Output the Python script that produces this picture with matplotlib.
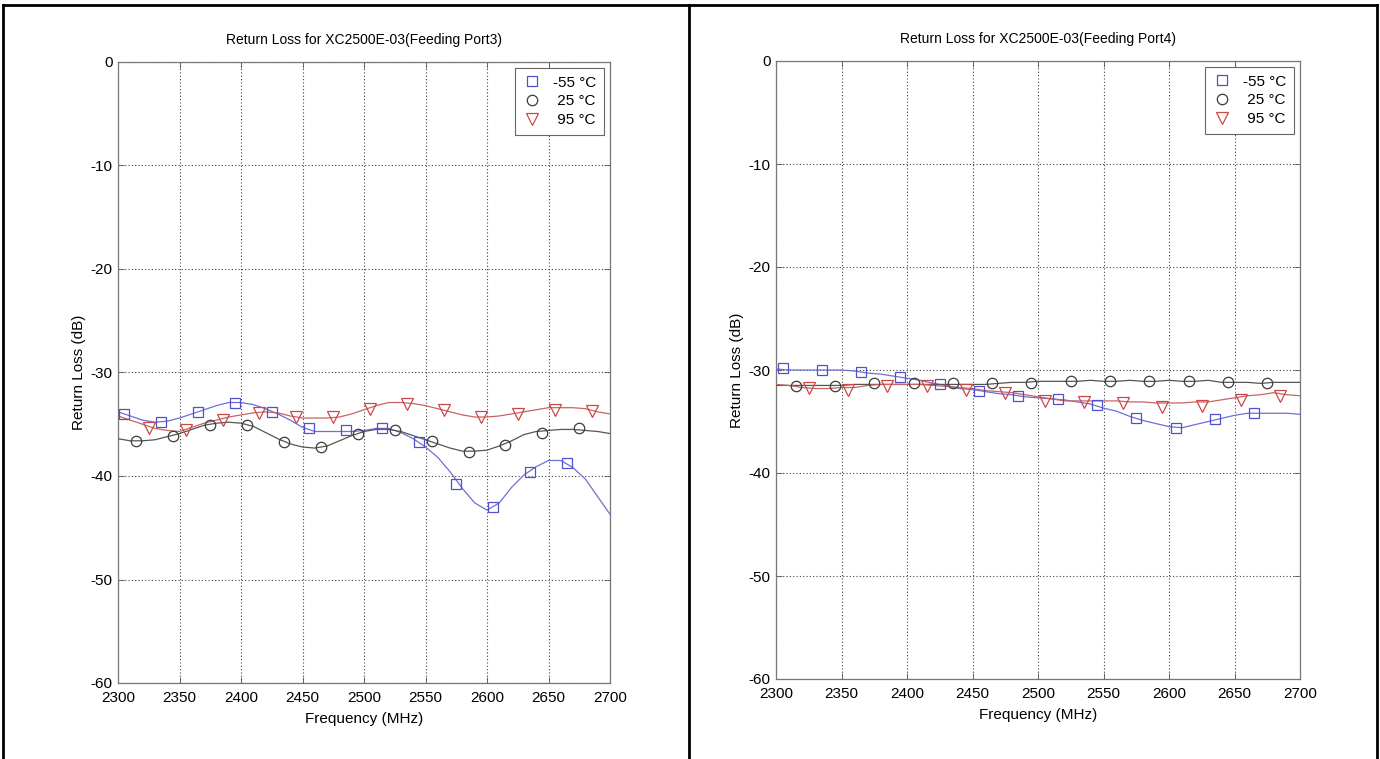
import matplotlib
matplotlib.use("Agg")
import matplotlib.pyplot as plt
from matplotlib.lines import Line2D
import numpy as np

plt.rcParams['font.family'] = ['Liberation Sans', 'DejaVu Sans']
plt.rcParams['axes.unicode_minus'] = False

# ---------------- data ----------------
freq_line = list(range(2300, 2701, 10))

# Port 3 (left panel) curves
p3_m55 = [-33.8, -34.2, -34.6, -34.8, -34.7, -34.4, -34.0, -33.6, -33.2, -32.9,
          -32.9, -33.1, -33.5, -34.0, -34.6, -35.3, -35.7, -35.7, -35.7, -35.7,
          -35.6, -35.4, -35.4, -35.8, -36.4, -37.2, -38.2, -39.6, -41.2, -42.6,
          -43.3, -42.6, -41.1, -39.9, -39.1, -38.5, -38.5, -39.2, -40.3, -42.0, -43.7]
p3_25 = [-36.4, -36.6, -36.6, -36.5, -36.2, -35.9, -35.5, -35.1, -34.9, -34.8,
         -34.9, -35.2, -35.8, -36.4, -36.9, -37.2, -37.3, -37.1, -36.6, -36.1,
         -35.7, -35.5, -35.5, -35.7, -36.1, -36.5, -36.9, -37.3, -37.6, -37.6,
         -37.5, -37.1, -36.6, -36.0, -35.7, -35.6, -35.5, -35.5, -35.6, -35.7, -35.9]
p3_95 = [-34.2, -34.6, -35.0, -35.4, -35.6, -35.7, -35.3, -34.9, -34.6, -34.3,
         -34.1, -33.9, -33.8, -33.9, -34.2, -34.4, -34.4, -34.4, -34.3, -34.0,
         -33.6, -33.2, -32.9, -32.9, -33.0, -33.2, -33.5, -33.8, -34.1, -34.3,
         -34.3, -34.2, -34.0, -33.8, -33.6, -33.4, -33.4, -33.4, -33.5, -33.8, -34.0]

# Port 4 (right panel) curves
p4_m55 = [-29.9, -30.0, -30.0, -30.0, -30.0, -30.0, -30.1, -30.3, -30.4, -30.6,
          -30.8, -31.0, -31.3, -31.5, -31.8, -31.9, -32.1, -32.3, -32.4, -32.6,
          -32.7, -32.8, -32.9, -33.1, -33.3, -33.7, -34.0, -34.5, -34.9, -35.2,
          -35.5, -35.6, -35.3, -35.0, -34.7, -34.4, -34.2, -34.2, -34.2, -34.2, -34.3]
p4_25 = [-31.5, -31.5, -31.5, -31.5, -31.5, -31.5, -31.4, -31.4, -31.4, -31.4,
         -31.4, -31.4, -31.4, -31.4, -31.4, -31.4, -31.4, -31.3, -31.2, -31.2,
         -31.1, -31.1, -31.1, -31.1, -31.0, -31.1, -31.1, -31.0, -31.1, -31.1,
         -31.0, -31.1, -31.1, -31.0, -31.2, -31.2, -31.2, -31.3, -31.2, -31.2, -31.2]
p4_95 = [-31.4, -31.5, -31.7, -31.8, -31.8, -31.7, -31.7, -31.5, -31.4, -31.4,
         -31.4, -31.4, -31.5, -31.6, -31.7, -31.8, -32.0, -32.1, -32.2, -32.4,
         -32.6, -32.8, -33.0, -33.0, -33.0, -33.0, -33.0, -33.1, -33.1, -33.2,
         -33.2, -33.2, -33.1, -33.1, -32.9, -32.7, -32.5, -32.4, -32.2, -32.4, -32.5]

# marker positions
mk_m55_f = [2305, 2335, 2365, 2395, 2425, 2455, 2485, 2515, 2545, 2575, 2605, 2635, 2665]
mk_25_f = [2315, 2345, 2375, 2405, 2435, 2465, 2495, 2525, 2555, 2585, 2615, 2645, 2675]
mk_95_f = [2325, 2355, 2385, 2415, 2445, 2475, 2505, 2535, 2565, 2595, 2625, 2655, 2685]

p3_mk_m55 = [-34.0, -34.8, -33.8, -32.9, -33.8, -35.4, -35.6, -35.4, -36.7, -40.8, -43.0, -39.6, -38.7]
p3_mk_25 = [-36.6, -36.1, -35.1, -35.1, -36.7, -37.2, -35.9, -35.6, -36.6, -37.7, -37.0, -35.8, -35.4]
p3_mk_95 = [-35.4, -35.6, -34.6, -33.9, -34.3, -34.3, -33.5, -33.0, -33.6, -34.3, -34.0, -33.6, -33.7]

p4_mk_m55 = [-29.8, -30.0, -30.2, -30.7, -31.4, -32.0, -32.5, -32.8, -33.4, -34.7, -35.6, -34.8, -34.2]
p4_mk_25 = [-31.6, -31.6, -31.3, -31.3, -31.3, -31.3, -31.3, -31.1, -31.1, -31.1, -31.1, -31.2, -31.3]
p4_mk_95 = [-31.7, -31.9, -31.6, -31.6, -31.9, -32.2, -33.0, -33.1, -33.2, -33.6, -33.5, -32.9, -32.5]

labels = ['-55 \u00b0C', ' 25 \u00b0C', ' 95 \u00b0C']
titles = ['Return Loss for XC2500E-03(Feeding Port3)',
          'Return Loss for XC2500E-03(Feeding Port4)']
xticks = [2300, 2350, 2400, 2450, 2500, 2550, 2600, 2650, 2700]
yticks = [0, -10, -20, -30, -40, -50, -60]

# ---------------- styling ----------------
line_colors = ['#6f6fd8', '#555555', '#c86464']
mk_colors = ['#5050cc', '#3c3c3c', '#cc4848']
markers = ['s', 'o', 'v']
msizes = [7.5, 7.5, 8]

fig = plt.figure(figsize=(13.8, 7.59), dpi=100)
W, H = 1380, 759

def px_axes(x0, x1, y0, y1):
    return fig.add_axes([x0 / W, 1 - y1 / H, (x1 - x0) / W, (y1 - y0) / H])

axes = [px_axes(118, 610, 62, 683), px_axes(776, 1300, 61, 679)]

panels = [
    ((p3_m55, p3_25, p3_95), (p3_mk_m55, p3_mk_25, p3_mk_95)),
    ((p4_m55, p4_25, p4_95), (p4_mk_m55, p4_mk_25, p4_mk_95)),
]
mk_freqs = [mk_m55_f, mk_25_f, mk_95_f]

for ax, (curves, mks), title in zip(axes, panels, titles):
    for i in range(3):
        ax.plot(freq_line, curves[i], color=line_colors[i], lw=0.9, zorder=3)
        ax.plot(mk_freqs[i], mks[i], linestyle='none', marker=markers[i],
                markersize=msizes[i], markerfacecolor='none',
                markeredgecolor=mk_colors[i], markeredgewidth=0.9,
                label=labels[i], zorder=4)
    ax.set_xlim(2300, 2700)
    ax.set_ylim(-60, 0)
    ax.set_xticks(xticks)
    ax.set_yticks(yticks)
    ax.grid(True, color='#444444', linestyle=(0, (1, 2)), linewidth=0.8)
    ax.tick_params(direction='in', length=4, width=0.6, color='#555555',
                   labelsize=11, top=True, right=True)
    ax.tick_params(axis='x', pad=6)
    ax.tick_params(axis='y', pad=4)
    for s in ax.spines.values():
        s.set_color('#777777')
        s.set_linewidth(0.9)
    ax.set_title(title, fontsize=10, pad=13)
    ax.set_xlabel('Frequency (MHz)', fontsize=11, labelpad=5)
    ax.set_ylabel('Return Loss (dB)', fontsize=11, labelpad=3)
    leg = ax.legend(loc='upper right', frameon=True, fancybox=False,
                    edgecolor='#666666', framealpha=1, fontsize=11,
                    handletextpad=0.8, borderpad=0.5, labelspacing=0.3,
                    handlelength=1.2, borderaxespad=0.4)
    leg.get_frame().set_linewidth(0.8)

# panel borders
lw = 2.0
fig.add_artist(Line2D([3 / W, 1377 / W], [1 - 5 / H, 1 - 5 / H], color='black', lw=lw))
for xp in (3, 689, 1377):
    fig.add_artist(Line2D([xp / W, xp / W], [0, 1 - 5 / H], color='black', lw=lw))

fig.savefig('out.png', dpi=100, facecolor='white')
